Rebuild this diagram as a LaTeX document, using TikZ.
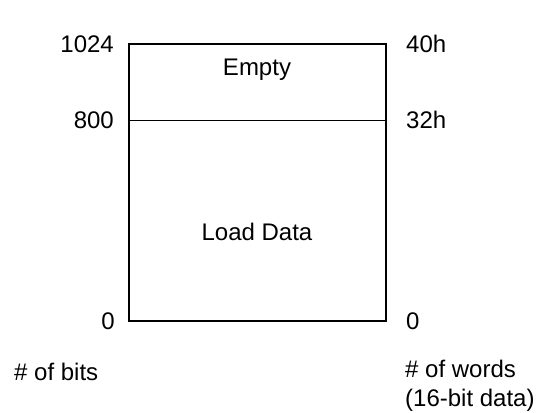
\documentclass[tikz,border=0pt]{standalone}
\usepackage{fontspec}
\setmainfont{Liberation Sans}
\begin{document}
\begin{tikzpicture}[x=1pt,y=-1pt,
  lbl/.style={font=\fontsize{24}{29}\selectfont, inner sep=0pt},
  frame/.style={draw=black, line width=2.7pt},
  divider/.style={draw=black, line width=1pt}]
\useasboundingbox (0,0) rectangle (548,412);
\coordinate (tl) at (129,44);
\coordinate (br) at (386,321);
\coordinate (ml) at (129,120);
\coordinate (mr) at (386,120);
\draw[frame] (tl) rectangle (br);
\draw[divider] (ml) -- (mr);
\node[lbl, anchor=east] (l1024) at (114,44) {1024};
\node[lbl, anchor=east] (l800) at (114,120) {800};
\node[lbl, anchor=east] (l0) at (115,321) {0};
\node[lbl, anchor=west] (r40) at (406,44) {40h};
\node[lbl, anchor=west] (r32) at (406,120) {32h};
\node[lbl, anchor=west] (r0) at (406,321) {0};
\node[lbl] (empty) at (257,70) {Empty};
\node[lbl] (load) at (257,232) {Load Data};
\node[lbl, anchor=west] (bits) at (14,372) {\# of bits};
\node[lbl, anchor=north west, align=left] (words) at (405,360) {\# of words\\(16-bit data)};
\end{tikzpicture}
\end{document}
